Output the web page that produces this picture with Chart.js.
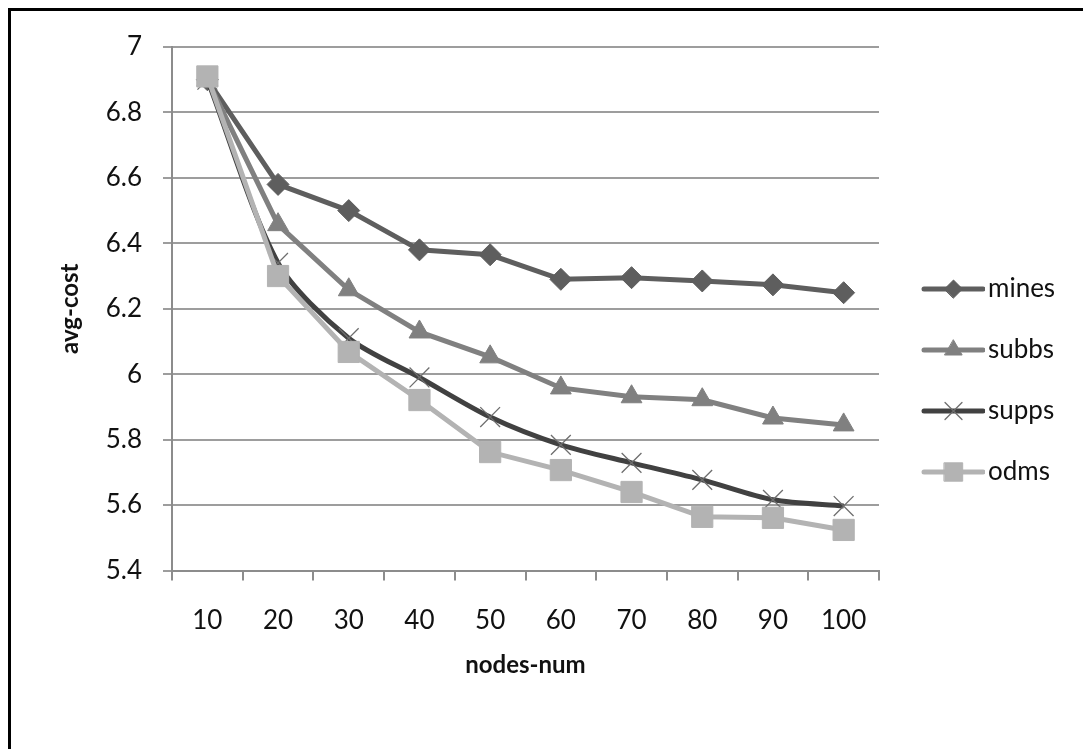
<!DOCTYPE html>
<html><head><meta charset="utf-8">
<script src="https://cdn.jsdelivr.net/npm/chart.js@4/dist/chart.umd.min.js"></script>
<style>
html,body{margin:0;padding:0;background:#fff;}
#wrap{position:relative;width:1083px;height:749px;overflow:hidden;}
#frame{position:absolute;left:8px;top:8px;right:-10px;bottom:-10px;border-left:3px solid #000;border-top:3px solid #000;pointer-events:none;}
canvas{position:absolute;left:0;top:0;}
</style></head><body>
<div id="wrap"><canvas id="c" width="1083" height="749"></canvas><div id="frame"></div></div>
<script>
const categories = ['10','20','30','40','50','60','70','80','90','100'];
const seriesNames = ['mines','subbs','supps','odms'];
const mines = [6.90, 6.58, 6.50, 6.38, 6.365, 6.29, 6.295, 6.285, 6.273, 6.249];
const subbs = [6.90, 6.457, 6.258, 6.129, 6.053, 5.958, 5.931, 5.922, 5.866, 5.845];
const supps = [6.90, 6.34, 6.11, 5.99, 5.869, 5.784, 5.729, 5.677, 5.616, 5.597];
const odms  = [6.91, 6.30, 6.068, 5.921, 5.762, 5.707, 5.64, 5.564, 5.561, 5.524];
const yMin = 5.4, yMax = 7, yStep = 0.2;

const FONT = 'Lato';
const fontSize = 26;
const styles = [
  {color:'#5e5e5e', point:'rectRot', r:11, lr:9, pColor:'#5e5e5e', pBorder:1, tension:0},
  {color:'#808080', point:'triangle', r:12, lr:10, pColor:'#808080', pBorder:1, tension:0},
  {color:'#414141', point:'crossRot', r:14, lr:12, pColor:'#6e6e6e', pBorder:1.3, tension:0.28},
  {color:'#b3b3b3', point:'rect', r:15, lr:13, pColor:'#b3b3b3', pBorder:1, tension:0}
];
const values = [mines, subbs, supps, odms];

function legendImg(s) {
  const c = document.createElement('canvas');
  c.width = 81; c.height = 32;
  const g = c.getContext('2d');
  g.strokeStyle = s.color; g.lineWidth = 5; g.lineCap = 'round';
  g.beginPath(); g.moveTo(20, 16); g.lineTo(79, 16); g.stroke();
  g.fillStyle = s.pColor; g.strokeStyle = s.pColor; g.lineWidth = s.pBorder;
  Chart.helpers.drawPoint(g, {pointStyle: s.point, radius: s.lr, borderWidth: s.pBorder, rotation: 0}, 49.5, 16);
  return c;
}
const legendImgs = styles.map(legendImg);

// measure legend text to place the plot's right edge
const mctx = document.createElement('canvas').getContext('2d');
mctx.font = fontSize + 'px ' + FONT;
const maxW = Math.max(...seriesNames.map(n => mctx.measureText(n).width));
const legPad = 35, legBox = 61;
const legendWidth = legPad + legBox + fontSize/2 + maxW + 10;
const padRight = Math.max(0, 1083 - 879 - legendWidth);

const datasets = seriesNames.map((name, i) => ({
  label: name,
  data: values[i],
  borderColor: styles[i].color,
  backgroundColor: styles[i].pColor,
  borderWidth: 5,
  pointStyle: styles[i].point,
  pointRadius: styles[i].r,
  pointHoverRadius: styles[i].r,
  pointBackgroundColor: styles[i].pColor,
  pointBorderColor: styles[i].pColor,
  pointBorderWidth: styles[i].pBorder,
  tension: styles[i].tension,
  order: 4 - i,
  clip: false
}));

new Chart(document.getElementById('c'), {
  type: 'line',
  data: { labels: categories, datasets },
  options: {
    responsive: false,
    animation: false,
    devicePixelRatio: 1,
    layout: { padding: { top: 47, bottom: 35, left: 0, right: padRight } },
    plugins: {
      tooltip: { enabled: false },
      legend: {
        position: 'right',
        align: 'center',
        labels: {
          usePointStyle: true,
          pointStyleWidth: legBox,
          padding: legPad,
          color: '#111',
          font: { family: FONT, size: fontSize },
          sort: (a, b) => a.datasetIndex - b.datasetIndex,
          generateLabels: (chart) => {
            const items = Chart.defaults.plugins.legend.labels.generateLabels(chart);
            items.forEach(it => { it.pointStyle = legendImgs[it.datasetIndex]; });
            return items;
          }
        }
      }
    },
    scales: {
      x: {
        type: 'category',
        offset: true,
        afterFit: (s) => { s.height = 143.5; },
        grid: { offset: true, drawOnChartArea: false, drawTicks: true, tickLength: 10, color: '#8c8c8c', lineWidth: 2 },
        border: { display: true, color: '#8c8c8c', width: 2 },
        ticks: { color: '#111', padding: 25, font: { family: FONT, size: fontSize }, maxRotation: 0 },
        title: { display: true, text: 'nodes-num', color: '#111', font: { family: FONT, size: 24, weight: 'bold' }, padding: { top: 0, bottom: 34.6 } }
      },
      y: {
        min: yMin, max: yMax,
        afterFit: (s) => { s.width = 172; },
        grid: { drawTicks: true, tickLength: 9, color: '#9d9d9d', lineWidth: 2 },
        border: { display: true, color: '#8c8c8c', width: 2 },
        ticks: { stepSize: yStep, color: '#111', padding: 21, font: { family: FONT, size: fontSize },
          callback: (v) => String(+Number(v).toFixed(1)) },
        title: { display: true, text: 'avg-cost', color: '#111', font: { family: FONT, size: 24, weight: 'bold' }, padding: { top: 55.6, bottom: 0 } }
      }
    }
  }
});
</script>
</body></html>
